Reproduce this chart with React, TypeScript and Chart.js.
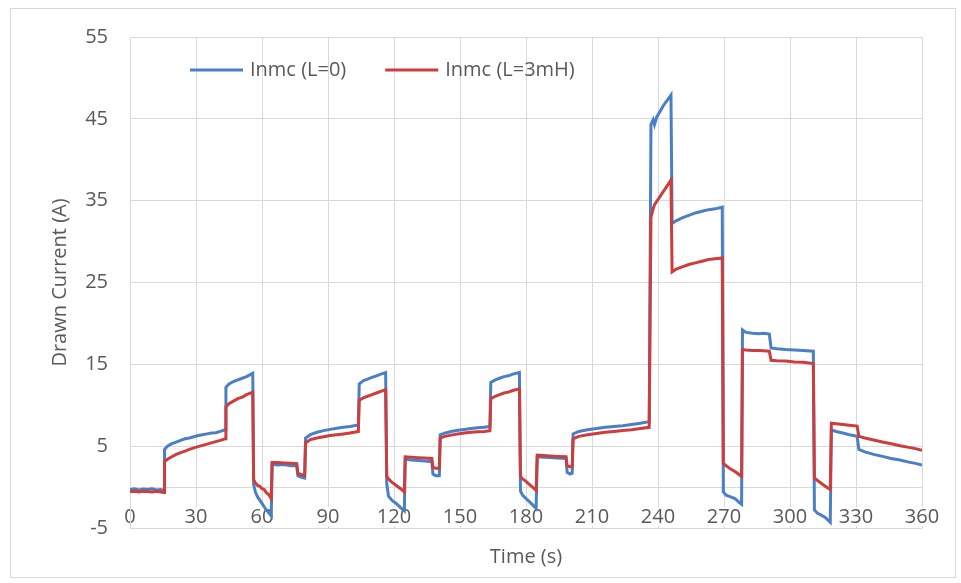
import React, { useEffect, useRef } from "react";
import { Chart, registerables } from "chart.js";

Chart.register(...registerables);

// Sample times (s) shared by both current traces
const timeSec = [
  0, 2, 4, 6, 8, 10, 12, 14, 15.5,
  15.7, 17, 19, 21, 23, 25, 27, 29, 31, 33, 35, 37, 39, 41, 43.3,
  43.6, 45, 47, 49, 51, 53, 55.8,
  56.2, 57, 58, 59, 60, 61, 62, 63, 64.2,
  64.6, 67, 70, 73, 75.8,
  76.3, 78, 79.4,
  79.8, 82, 85, 88, 91, 94, 97, 100, 103.8,
  104.2, 106, 108, 110, 112, 114, 116.2,
  116.7, 117.5, 119, 121, 123, 124.7,
  125.1, 128, 131, 134, 137.2,
  137.7, 139, 140.6,
  141, 143, 146, 149, 152, 155, 158, 161, 163.6,
  164, 166, 168, 170, 172, 174, 177,
  177.5, 178.5, 180, 182, 184.6,
  185.1, 188, 191, 194, 198.2,
  198.7, 200, 201,
  201.4, 204, 208, 212, 216, 220, 224, 228, 232, 236,
  236.8, 237.8, 238.4, 239.4, 242.4, 245.9,
  246.4, 248, 251, 254, 257, 260, 263, 266, 269.2,
  269.7, 271, 273, 275, 277, 278,
  278.4, 280, 283, 286, 288, 290.6,
  291.4, 294, 298, 302, 306, 310.6,
  311.1, 312.5, 314, 316, 318.3,
  318.8, 321, 324, 327, 330.5,
  331.3, 334, 338, 342, 346, 350, 354, 357, 360,
];

// Inmc with L = 0 (A)
const inmcL0 = [
  -0.3, -0.2, -0.35, -0.25, -0.3, -0.2, -0.35, -0.3, -0.4,
  4.6, 5.0, 5.3, 5.5, 5.7, 5.9, 6.0, 6.15, 6.3, 6.4, 6.5, 6.6, 6.65, 6.8, 7.0,
  12.2, 12.6, 12.9, 13.1, 13.3, 13.5, 13.9,
  0.3, -0.6, -1.2, -1.6, -2.0, -2.4, -2.8, -3.1, -3.5,
  2.8, 2.7, 2.75, 2.6, 2.6,
  1.4, 1.2, 1.1,
  6.0, 6.4, 6.7, 6.9, 7.05, 7.2, 7.3, 7.4, 7.6,
  12.6, 13.0, 13.2, 13.4, 13.6, 13.8, 14.0,
  0.4, -1.1, -1.6, -2.0, -2.5, -2.9,
  3.4, 3.3, 3.25, 3.2, 3.1,
  1.6, 1.4, 1.4,
  6.4, 6.6, 6.8, 6.95, 7.05, 7.15, 7.25, 7.3, 7.4,
  12.8, 13.1, 13.3, 13.5, 13.6, 13.8, 14.0,
  -0.5, -1.0, -1.4, -1.9, -2.6,
  3.7, 3.65, 3.6, 3.55, 3.5,
  1.8, 1.6, 1.7,
  6.5, 6.8, 7.0, 7.15, 7.3, 7.4, 7.5, 7.65, 7.8, 8.0,
  44.3, 44.9, 44.3, 45.2, 46.6, 47.9,
  32.2, 32.5, 32.9, 33.2, 33.5, 33.7, 33.9, 34.0, 34.2,
  -0.6, -1.0, -1.2, -1.4, -1.9, -2.1,
  19.2, 18.9, 18.8, 18.75, 18.8, 18.7,
  17.0, 16.9, 16.8, 16.75, 16.7, 16.6,
  -2.8, -3.2, -3.4, -3.7, -4.3,
  7.0, 6.8, 6.6, 6.4, 6.2,
  4.6, 4.3, 4.0, 3.75, 3.5, 3.3, 3.05, 2.9, 2.7,
];

// Inmc with L = 3 mH (A)
const inmcL3mH = [
  -0.55, -0.5, -0.6, -0.5, -0.55, -0.6, -0.5, -0.6, -0.65,
  3.1, 3.4, 3.7, 4.0, 4.2, 4.4, 4.6, 4.8, 4.95, 5.1, 5.25, 5.4, 5.55, 5.7, 5.9,
  9.8, 10.2, 10.5, 10.8, 11.0, 11.3, 11.6,
  0.9, 0.5, 0.2, 0.1, -0.2, -0.3, -0.7, -0.9, -1.4,
  3.0, 3.0, 2.95, 2.9, 2.85,
  1.7, 1.5, 1.45,
  5.4, 5.8, 6.0, 6.15, 6.3, 6.4, 6.5, 6.6, 6.8,
  10.6, 10.9, 11.1, 11.3, 11.5, 11.7, 11.9,
  1.3, 1.0, 0.6, 0.2, -0.2, -0.6,
  3.7, 3.65, 3.6, 3.55, 3.5,
  2.4, 2.3, 2.3,
  6.0, 6.2, 6.35, 6.5, 6.6, 6.7, 6.75, 6.8, 6.9,
  10.8, 11.1, 11.3, 11.5, 11.6, 11.8, 12.0,
  1.3, 1.0, 0.7, 0.2, -0.4,
  3.9, 3.85, 3.8, 3.75, 3.7,
  2.6, 2.5, 2.5,
  5.9, 6.2, 6.4, 6.55, 6.7, 6.8, 6.9, 7.0, 7.15, 7.3,
  33.0, 34.0, 34.5, 34.9, 36.1, 37.5,
  26.3, 26.6, 26.9, 27.2, 27.4, 27.6, 27.8, 27.9, 28.0,
  2.9, 2.6, 2.2, 1.9, 1.5, 1.3,
  16.8, 16.75, 16.7, 16.7, 16.65, 16.6,
  15.5, 15.45, 15.4, 15.3, 15.25, 15.1,
  1.1, 0.8, 0.5, 0.1, -0.3,
  7.8, 7.75, 7.65, 7.55, 7.45,
  6.2, 6.0, 5.75, 5.5, 5.3, 5.05, 4.85, 4.7, 4.5,
];

const xTicks = [0, 30, 60, 90, 120, 150, 180, 210, 240, 270, 300, 330, 360];
const yTicks = [-5, 5, 15, 25, 35, 45, 55];

const seriesLabels = ["Inmc (L=0)", "Inmc (L=3mH)"];
const seriesColors = ["#4a7fc5", "#cc3d3d"];

const FONT_FAMILY = "'Open Sans', 'Noto Sans', sans-serif";
const TEXT_COLOR = "#595959";
const GRID_COLOR = "#d9d9d9";

export default function App() {
  const canvasRef = useRef<HTMLCanvasElement>(null);

  useEffect(() => {
    const canvas = canvasRef.current;
    if (!canvas) return;

    const toPoints = (values: number[]) =>
      timeSec.map((t, i) => ({ x: t, y: values[i] }));

    // White page with a thin frame around the whole chart
    const framePlugin = {
      id: "frame",
      beforeDraw(chart: any) {
        const { ctx, width, height } = chart;
        ctx.save();
        ctx.fillStyle = "#ffffff";
        ctx.fillRect(0, 0, width, height);
        ctx.strokeStyle = GRID_COLOR;
        ctx.lineWidth = 1;
        ctx.strokeRect(10.5, 8.5, 945, 569);
        ctx.restore();
      },
    };

    // Legend drawn inside the plot area, near the top
    const inlineLegend = {
      id: "inlineLegend",
      afterDatasetsDraw(chart: any) {
        const { ctx, chartArea } = chart;
        const y = chartArea.top + 33;
        let x = chartArea.left + 60;
        ctx.save();
        ctx.font = `20px ${FONT_FAMILY}`;
        ctx.textBaseline = "middle";
        ctx.textAlign = "left";
        chart.data.datasets.forEach((ds: any) => {
          ctx.strokeStyle = ds.borderColor;
          ctx.lineWidth = 3;
          ctx.beginPath();
          ctx.moveTo(x, y);
          ctx.lineTo(x + 53, y);
          ctx.stroke();
          ctx.fillStyle = TEXT_COLOR;
          ctx.fillText(ds.label, x + 60, y);
          x += 60 + ctx.measureText(ds.label).width + 39;
        });
        ctx.restore();
      },
    };

    const chart = new Chart(canvas, {
      type: "line",
      data: {
        datasets: [
          {
            label: seriesLabels[0],
            data: toPoints(inmcL0),
            borderColor: seriesColors[0],
            backgroundColor: seriesColors[0],
            borderWidth: 3,
            pointRadius: 0,
            tension: 0,
            order: 1,
          },
          {
            label: seriesLabels[1],
            data: toPoints(inmcL3mH),
            borderColor: seriesColors[1],
            backgroundColor: seriesColors[1],
            borderWidth: 3,
            pointRadius: 0,
            tension: 0,
            order: 0,
          },
        ],
      },
      options: {
        responsive: false,
        animation: false,
        events: [],
        layout: { padding: { left: 30, right: 39, top: 37, bottom: 14 } },
        plugins: {
          legend: { display: false },
          tooltip: { enabled: false },
          title: {
            display: true,
            text: "Time (s)",
            position: "bottom",
            fullSize: false,
            color: TEXT_COLOR,
            font: { family: FONT_FAMILY, size: 20, weight: "normal" },
            padding: { top: 17, bottom: 0 },
          },
        },
        scales: {
          x: {
            type: "linear",
            min: 0,
            max: 360,
            position: { y: 0 },
            afterBuildTicks: (scale: any) => {
              scale.ticks = xTicks.map((v) => ({ value: v }));
            },
            grid: { color: GRID_COLOR, drawTicks: false },
            border: { color: GRID_COLOR },
            ticks: {
              padding: 18,
              color: TEXT_COLOR,
              font: { family: FONT_FAMILY, size: 20 },
              maxRotation: 0,
              autoSkip: false,
              showLabelBackdrop: true,
              backdropColor: "#ffffff",
              backdropPadding: { top: -2, bottom: -3, left: 3, right: 3 },
            },
          },
          y: {
            type: "linear",
            min: -5,
            max: 55,
            afterBuildTicks: (scale: any) => {
              scale.ticks = yTicks.map((v) => ({ value: v }));
            },
            afterFit: (scale: any) => {
              scale.width = 100;
            },
            grid: { color: GRID_COLOR, drawTicks: false },
            border: { color: GRID_COLOR },
            ticks: {
              padding: 22,
              color: TEXT_COLOR,
              font: { family: FONT_FAMILY, size: 20 },
            },
            title: {
              display: true,
              text: "Drawn Current (A)",
              color: TEXT_COLOR,
              font: { family: FONT_FAMILY, size: 20 },
              padding: { top: 18, bottom: 0 },
            },
          },
        },
      },
      plugins: [framePlugin, inlineLegend],
    } as any);

    return () => chart.destroy();
  }, []);

  return (
    <canvas
      ref={canvasRef}
      width={961}
      height={583}
      style={{ position: "fixed", left: 0, top: 0, width: 961, height: 583 }}
    />
  );
}
